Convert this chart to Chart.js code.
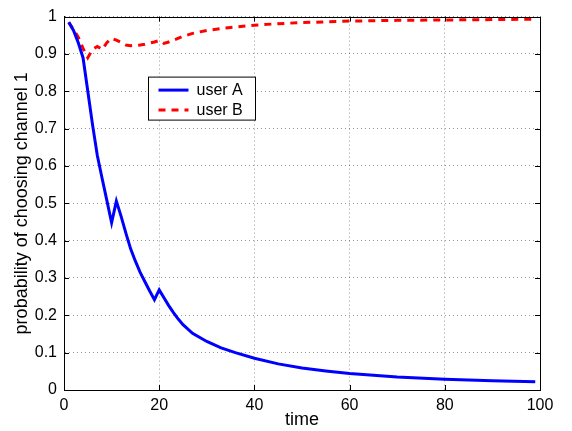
<!DOCTYPE html>
<html lang="en">
<head>
  <meta charset="UTF-8">
  <title>channel</title>
  <script src="https://cdn.jsdelivr.net/npm/chart.js"></script>
  <style>
    body { margin: 0; background: #fff; }
    .grafico { width: 572px; height: 431px; }
  </style>
</head>
<body>
  <div class="grafico"><canvas id="grafico1"></canvas></div>
  <script>
    // valores
    var tempoA = [1, 2, 3, 4, 5, 6, 7, 8, 9, 10, 11, 12, 13, 14, 15, 16, 17, 18, 19, 20,
                  21, 22, 23, 24, 25, 27, 30, 33, 36, 40, 45, 50, 55, 60, 70, 80, 90, 99]
    var userA = [0.985, 0.963, 0.93, 0.89, 0.80, 0.71, 0.628, 0.567, 0.508, 0.448, 0.506, 0.465, 0.42, 0.378, 0.345, 0.315, 0.29, 0.265, 0.242, 0.268,
                 0.247, 0.226, 0.207, 0.19, 0.175, 0.152, 0.13, 0.113, 0.1, 0.085, 0.07, 0.059, 0.051, 0.044, 0.035, 0.029, 0.025, 0.022]

    var tempoB = [1, 2, 3, 4, 5, 6, 7, 8, 9, 10, 11, 12, 13, 14, 15, 16, 17, 18, 19, 20,
                  21, 22, 23, 25, 27, 30, 35, 40, 45, 50, 60, 70, 80, 90, 99]
    var userB = [0.985, 0.965, 0.945, 0.915, 0.89, 0.912, 0.92, 0.912, 0.93, 0.942, 0.937, 0.931, 0.924, 0.922, 0.923, 0.924, 0.926, 0.929, 0.932, 0.936,
                 0.928, 0.932, 0.937, 0.947, 0.955, 0.963, 0.971, 0.977, 0.981, 0.984, 0.988, 0.99, 0.991, 0.992, 0.993]

    var xTicks = [0, 20, 40, 60, 80, 100]
    var yTicks = [0, 0.1, 0.2, 0.3, 0.4, 0.5, 0.6, 0.7, 0.8, 0.9, 1]

    var labels = ['user A', 'user B']

    function pares(xs, ys) {
      var out = []
      for (var i = 0; i < xs.length; i++) out.push({ x: xs[i], y: ys[i] })
      return out
    }

    var fonte = '"Liberation Sans", Arial, Helvetica, sans-serif'

    // caixa, marcas para dentro e legenda no estilo matlab
    var moldura = {
      id: 'moldura',
      afterDraw: function (chart) {
        var ctx = chart.ctx
        var a = chart.chartArea
        var sx = chart.scales.x
        var sy = chart.scales.y
        ctx.save()
        ctx.strokeStyle = '#000'
        ctx.lineWidth = 1
        ctx.setLineDash([])
        ctx.strokeRect(Math.round(a.left) + 0.5, Math.round(a.top) + 0.5,
                       Math.round(a.right - a.left), Math.round(a.bottom - a.top))
        var t = 5
        ctx.beginPath()
        xTicks.forEach(function (v) {
          var px = Math.round(sx.getPixelForValue(v)) + 0.5
          ctx.moveTo(px, a.bottom); ctx.lineTo(px, a.bottom - t)
          ctx.moveTo(px, a.top); ctx.lineTo(px, a.top + t)
        })
        yTicks.forEach(function (v) {
          var py = Math.round(sy.getPixelForValue(v)) + 0.5
          ctx.moveTo(a.left, py); ctx.lineTo(a.left + t, py)
          ctx.moveTo(a.right, py); ctx.lineTo(a.right - t, py)
        })
        ctx.stroke()

        // legenda
        var lx = a.left + 84.5, ly = a.top + 60.5, lw = 107, lh = 43
        ctx.fillStyle = '#fff'
        ctx.fillRect(lx, ly, lw, lh)
        ctx.strokeRect(lx, ly, lw, lh)
        ctx.font = '16px ' + fonte
        ctx.textBaseline = 'middle'
        chart.data.datasets.forEach(function (ds, i) {
          var yy = ly + 13 + i * 20
          ctx.strokeStyle = ds.borderColor
          ctx.lineWidth = ds.borderWidth
          ctx.setLineDash(ds.borderDash || [])
          ctx.beginPath()
          ctx.moveTo(lx + 10, yy); ctx.lineTo(lx + 40, yy)
          ctx.stroke()
          ctx.fillStyle = '#000'
          ctx.fillText(ds.label, lx + 48, yy)
        })
        ctx.restore()
      }
    }

    function rotulo(v) { return String(Math.round(v * 10) / 10) }

    const ctx = document.getElementById('grafico1')

    new Chart(ctx, {
      type: 'line',
      data: {
        datasets: [{
          label: labels[0],
          data: pares(tempoA, userA),
          borderColor: 'rgb(0, 0, 255)',
          borderWidth: 3,
          pointRadius: 0,
          tension: 0,
          fill: false
        }, {
          label: labels[1],
          data: pares(tempoB, userB),
          borderColor: 'rgb(255, 0, 0)',
          borderWidth: 3,
          borderDash: [7, 6],
          borderCapStyle: 'butt',
          pointRadius: 0,
          tension: 0,
          fill: false
        }]
      },
      options: {
        responsive: true,
        maintainAspectRatio: false,
        animation: false,
        layout: { padding: { top: 14, right: 32, bottom: 0, left: 0 } },
        plugins: {
          legend: { display: false },
          tooltip: { enabled: false }
        },
        scales: {
          x: {
            type: 'linear',
            min: 0,
            max: 100,
            afterBuildTicks: function (s) { s.ticks = xTicks.map(function (v) { return { value: v } }) },
            afterFit: function (s) { s.height = 41 },
            ticks: { color: '#000', padding: 6, font: { family: fonte, size: 16 }, callback: rotulo },
            grid: { color: 'rgba(0,0,0,0.4)', drawTicks: false },
            border: { display: true, color: '#000', dash: [1, 3] },
            title: { display: true, text: 'time', color: '#000', padding: 0, font: { family: fonte, size: 18 } }
          },
          y: {
            min: 0,
            max: 1,
            afterBuildTicks: function (s) { s.ticks = yTicks.map(function (v) { return { value: v } }) },
            afterFit: function (s) { s.width = 64 },
            ticks: { color: '#000', padding: 7, font: { family: fonte, size: 16 }, callback: rotulo },
            grid: { color: 'rgba(0,0,0,0.4)', drawTicks: false },
            border: { display: true, color: '#000', dash: [1, 3] },
            title: { display: true, text: 'probability of choosing channel 1', color: '#000', padding: { top: 11 }, font: { family: fonte, size: 18 } }
          }
        }
      },
      plugins: [moldura]
    })
  </script>
</body>
</html>
